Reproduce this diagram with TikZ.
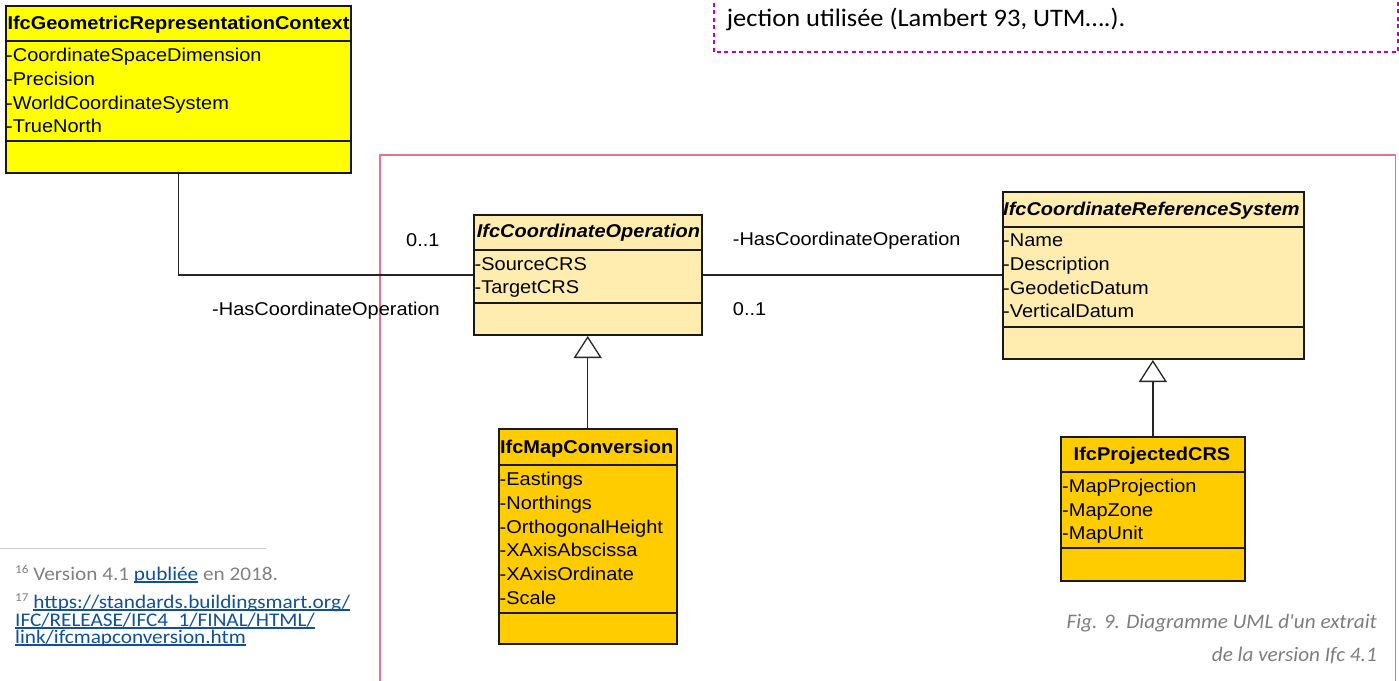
\documentclass[tikz,border=0pt]{standalone}
\usepackage{fontspec}
\setmainfont{Liberation Sans}
\newfontfamily\umlfont[FakeStretch=1.08]{Liberation Sans}
\newfontfamily\topfont[FakeStretch=1.05]{Carlito}
\newfontfamily\fnfont[FakeStretch=1.1]{Carlito}
\newfontfamily\capfont[FakeStretch=1.03]{Carlito}
\usetikzlibrary{arrows.meta}
\definecolor{geoY}{RGB}{255,255,0}
\definecolor{opT}{RGB}{255,236,175}
\definecolor{mcO}{RGB}{255,204,0}
\definecolor{pinkF}{RGB}{230,115,140}
\definecolor{magD}{RGB}{192,0,192}
\definecolor{noteG}{RGB}{128,128,128}
\definecolor{linkB}{RGB}{15,80,150}
\definecolor{capG}{RGB}{125,125,125}
\newcommand\lnk[1]{{\color{linkB}\setbox0\hbox{#1}\rlap{\rule[-2.8pt]{\wd0}{1.9pt}}\box0}}
\newcommand\fnsup[1]{\raisebox{7pt}{\fontsize{12}{14}\selectfont #1}}
\begin{document}
\begin{tikzpicture}[x=1pt,y=-1pt,
  cls/.style={draw=black!90, line width=2pt, inner sep=0pt, anchor=north west},
  sep/.style={draw=black!90, line width=2pt},
  attr/.style={anchor=base west, inner sep=0pt, font=\umlfont\fontsize{18.5}{22}\selectfont},
  ttl/.style={anchor=base west, inner sep=0pt, font=\umlfont\bfseries\fontsize{18.5}{22}\selectfont},
  ittl/.style={anchor=base west, inner sep=0pt, font=\umlfont\bfseries\itshape\fontsize{18.5}{22}\selectfont},
  lbl/.style={anchor=base west, inner sep=0pt, font=\umlfont\fontsize{18.5}{22}\selectfont},
  conn/.style={draw=black!85, line width=1.3pt},
  gen/.style={conn, -{Triangle[open, length=22pt, width=28pt, fill=white]}},
  fn/.style={anchor=base west, inner sep=0pt, text=noteG, font=\fnfont\fontsize{19.3}{22}\selectfont},
  capt/.style={anchor=base east, inner sep=0pt, text=capG, font=\capfont\itshape\fontsize{20.6}{24}\selectfont},
]
\useasboundingbox (0,0) rectangle (1399,680);
\clip (0,0) rectangle (1399,680);

% frames from the page
\draw[pinkF, line width=1.5pt] (380,700) -- (380,155) -- (1395.3,155) -- (1395.3,700);
\draw[magD, line width=2pt, dash pattern=on 4pt off 3.5pt] (714,-20) rectangle (1397.5,52.3);
\node[anchor=base west, inner sep=0pt, font=\topfont\fontsize{25.2}{28}\selectfont] (topTxt) at (726.7,26) {jection utilisée (Lambert 93, UTM….).};

% class boxes
\node[cls, fill=geoY, minimum width=345pt, minimum height=167pt] (geo) at (5,5) {};
\draw[sep] (5,41) -- (350,41);
\draw[sep] (5,141) -- (350,141);
\node[ttl] (geoT) at (7.3,29.3) {IfcGeometricRepresentationContext};
\node[attr] (geoA1) at (6,61.7) {-CoordinateSpaceDimension};
\node[attr] (geoA2) at (6,85.4) {-Precision};
\node[attr] (geoA3) at (6,109.1) {-WorldCoordinateSystem};
\node[attr] (geoA4) at (6,132.8) {-TrueNorth};

\node[cls, fill=opT, minimum width=228pt, minimum height=120pt] (op) at (472.7,214) {};
\draw[sep] (472.7,250) -- (700.7,250);
\draw[sep] (472.7,303) -- (700.7,303);
\node[ittl] (opT) at (476.7,237.3) {IfcCoordinateOperation};
\node[attr] (opA1) at (474.5,270.7) {-SourceCRS};
\node[attr] (opA2) at (474.5,293.8) {-TargetCRS};

\node[cls, fill=opT, minimum width=301pt, minimum height=167pt] (crs) at (1001.7,191) {};
\draw[sep] (1001.7,226.7) -- (1302.7,226.7);
\draw[sep] (1001.7,326.7) -- (1302.7,326.7);
\node[ittl] (crsT) at (1003,215) {IfcCoordinateReferenceSystem};
\node[attr] (crsA1) at (1003,246.7) {-Name};
\node[attr] (crsA2) at (1003,270.4) {-Description};
\node[attr] (crsA3) at (1003,294.1) {-GeodeticDatum};
\node[attr] (crsA4) at (1003,317.8) {-VerticalDatum};

\node[cls, fill=mcO, minimum width=178pt, minimum height=215pt] (mc) at (497.7,428.3) {};
\draw[sep] (497.7,465) -- (675.7,465);
\draw[sep] (497.7,612.7) -- (675.7,612.7);
\node[ttl, anchor=base] (mcT) at (586.7,453.3) {IfcMapConversion};
\node[attr] (mcA1) at (499.5,485.7) {-Eastings};
\node[attr] (mcA2) at (499.5,509.4) {-Northings};
\node[attr] (mcA3) at (499.5,533.1) {-OrthogonalHeight};
\node[attr] (mcA4) at (499.5,556.8) {-XAxisAbscissa};
\node[attr] (mcA5) at (499.5,580.5) {-XAxisOrdinate};
\node[attr] (mcA6) at (499.5,604.2) {-Scale};

\node[cls, fill=mcO, minimum width=183.7pt, minimum height=144pt] (proj) at (1060,436) {};
\draw[sep] (1060,472.3) -- (1243.7,472.3);
\draw[sep] (1060,548.3) -- (1243.7,548.3);
\node[ttl, anchor=base] (projT) at (1152,460) {IfcProjectedCRS};
\node[attr] (projA1) at (1062,492.3) {-MapProjection};
\node[attr] (projA2) at (1062,516) {-MapZone};
\node[attr] (projA3) at (1062,539.7) {-MapUnit};

% connectors
\draw[conn] (geo.south) |- (op.west);
\draw[conn] (op.east) -- (op.east -| crs.west);
\draw[gen] (mc.north) -- (op.south);
\draw[gen] (proj.north) -- (proj.north |- crs.south);

% association labels
\node[lbl] (m1) at (406,246) {0..1};
\node[lbl] (r1) at (212,315) {-HasCoordinateOperation};
\node[lbl] (r2) at (732.7,245) {-HasCoordinateOperation};
\node[lbl] (m2) at (732.7,315) {0..1};

% footnotes
\draw[gray!40, line width=1.2pt] (0,548.3) -- (265.7,548.3);
\node[fn] (fn1) at (15,580) {\fnsup{16} Version 4.1 \lnk{publiée} en 2018.};
\node[fn] (fn2) at (15,608) {\fnsup{17} \lnk{https://standards.buildingsmart.org/}};
\node[fn] (fn3) at (15,626) {\lnk{IFC/RELEASE/IFC4\_1/FINAL/HTML/}};
\node[fn] (fn4) at (15,643) {\lnk{link/ifcmapconversion.htm}};

% caption
\node[capt] (cap1) at (1377,628.3) {Fig. 9. Diagramme UML d'un extrait};
\node[capt] (cap2) at (1377,661.7) {de la version Ifc 4.1};
\end{tikzpicture}
\end{document}
